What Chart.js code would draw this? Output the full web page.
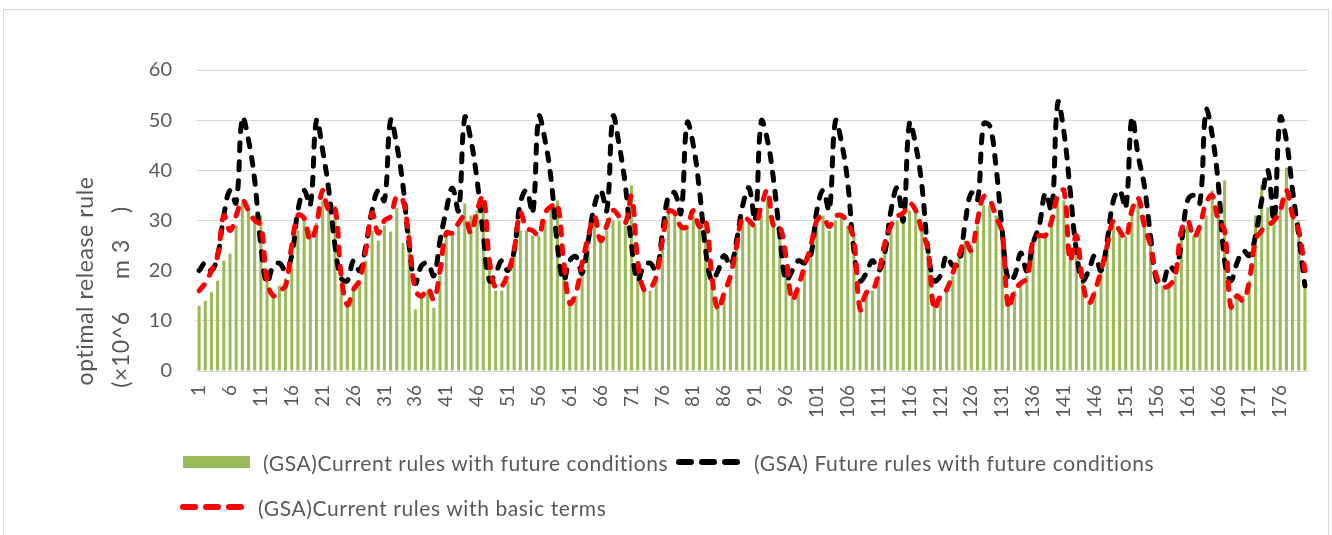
<!DOCTYPE html>
<html>
<head>
<meta charset="UTF-8"/>
<title>optimal release rule</title>
<script src="https://cdn.jsdelivr.net/npm/chart.js@4.4.0/dist/chart.umd.min.js"></script>
<style>
 body { margin: 0; background: #fff; font-family: Lato, sans-serif; color: #595959; }
 #wrap { position: relative; width: 1332px; height: 535px; overflow: hidden; background: #fff; }
 #frame { position: absolute; left: 3px; top: 9px; width: 1324px; height: 540px; border: 1px solid #d9d9d9; }
 canvas { position: absolute; left: 0; top: 0; }
 .ytitle { position: absolute; white-space: pre; font-size: 23px; letter-spacing: 0.6px; line-height: 1; transform: translate(-50%, -50%) rotate(-90deg); }
 .leg { position: absolute; font-size: 21px; letter-spacing: 0.6px; white-space: pre; line-height: 1; transform: translateY(-50%); }
 .swatch { position: absolute; }
</style>
</head>
<body>
<div id="wrap">
  <div id="frame"></div>
  <canvas id="chart" width="1332" height="535"></canvas>

  <div class="ytitle" style="left:84px; top:281px;">optimal release rule</div>
  <div class="ytitle" style="left:120px; top:297px;">(×10^6     m 3    )</div>

  <div class="swatch" style="left:183px; top:456px; width:67px; height:12px; background:#9bbb59;"></div>
  <div class="leg" style="left:263px; top:462px;">(GSA)Current rules with future conditions</div>
  <svg class="swatch" style="left:674px; top:455px;" width="70" height="14">
    <line x1="5" y1="7" x2="65" y2="7" stroke="#000" stroke-width="6" stroke-linecap="round" stroke-dasharray="12 11"/>
  </svg>
  <div class="leg" style="left:754px; top:462px;">(GSA) Future rules with future conditions</div>

  <svg class="swatch" style="left:178px; top:500px;" width="70" height="14">
    <line x1="5" y1="7" x2="65" y2="7" stroke="#ff0000" stroke-width="6" stroke-linecap="round" stroke-dasharray="12 11"/>
  </svg>
  <div class="leg" style="left:258px; top:507px;">(GSA)Current rules with basic terms</div>
</div>

<script>
 // months 1..180 (15 years, monthly)
 var months = [];
 for (var i = 1; i <= 180; i++) months.push(String(i));

 // (GSA)Current rules with future conditions - bars
 var currentFuture = [
   13, 14, 15.7, 18, 22, 23.4, 29, 33.5, 32, 31, 31, 20,
   15.5, 17, 18.5, 21, 28, 30.5, 28, 29.5, 34, 33, 33, 17,
   14, 16.9, 18, 22, 28, 26, 29, 27.8, 32.5, 25.5, 28, 12.3,
   15, 16, 12.6, 19, 27, 27, 30, 33.4, 31, 32, 33, 21,
   16, 16, 18, 23, 28, 28, 27, 27, 30, 32, 34, 19,
   14, 15, 20, 25, 30, 27, 28, 30, 30, 29, 37, 21,
   16, 16, 18, 25, 34, 31, 29, 29, 31, 29, 30, 18,
   13, 15, 18, 24, 30, 30, 29, 31, 34, 30, 29, 21,
   15, 16, 20, 24, 29, 31, 28, 30, 31, 29, 27, 14,
   16, 16, 19, 25, 28, 30, 30, 32, 32, 29, 25, 13,
   15, 16, 19, 23, 26, 25, 29, 33, 33, 31, 27, 14,
   16, 17, 19, 25, 27, 27, 29, 34.6, 34, 25, 26, 18,
   14, 16, 20, 25, 29, 28, 27, 31, 33.6, 30, 26, 19,
   17, 17, 19, 27, 29, 27, 29, 31, 36, 31, 38, 13,
   15, 15, 18, 31, 37, 32.6, 32, 32, 40.5, 31, 30, 18
 ];

 // (GSA) Future rules with future conditions - black dashed
 var futureFuture = [
   20, 21.5, 20, 23, 31, 36, 33.5, 50.5, 46, 38, 25, 17.5,
   21, 21.5, 20, 23, 32, 36, 33, 50, 44, 36, 25, 18.5,
   18, 22, 20, 25, 32, 36, 34, 50, 45, 37, 25, 17.5,
   21, 21.5, 19, 26, 32, 36.5, 32, 50.5, 46, 38, 27, 18,
   19.5, 22, 20, 24, 33.5, 36, 31.5, 50.7, 46, 38, 25, 18,
   22, 22.8, 19.5, 26, 33, 36, 32, 50.7, 45, 37, 25, 18,
   21, 21.5, 20, 27.5, 35, 35.5, 31.5, 49.5, 45, 36, 24, 18,
   20, 23, 21, 26, 33, 36.5, 30, 49.8, 46, 38, 27, 18,
   20, 22, 21.5, 23, 32, 36, 32, 49.8, 45.5, 37.5, 24, 18,
   19.5, 22, 20, 23.5, 32, 36.5, 30, 49.5, 45, 37, 24, 18,
   19, 23, 21, 21.5, 29.5, 35.5, 34, 49.3, 48.8, 40.7, 28, 18,
   19, 23.5, 20, 25.5, 29, 35.5, 32, 53.5, 47.5, 36, 24, 18,
   20, 23, 20, 26, 34, 36, 32.5, 50.5, 43, 37, 27, 18,
   17.5, 21, 20, 25.5, 34, 35, 33.5, 52, 47, 37, 22, 18,
   21.5, 24, 23, 27, 34, 40, 30, 50.5, 46, 36, 27, 17
 ];

 // (GSA)Current rules with basic terms - red dashed
 var currentBasic = [
   16, 17.5, 20, 23, 31, 28, 31, 34, 32, 30, 29, 18,
   15, 16, 17, 25, 31, 30.5, 26, 29, 36, 32, 32.5, 19,
   13.2, 16.2, 18.2, 24.2, 31.5, 27.5, 30, 30.8, 34.8, 34, 26, 16.2,
   14.9, 16.5, 14.2, 20, 27.5, 27.5, 29.5, 30.8, 27.5, 32, 34.8, 22,
   16.5, 16.9, 19.5, 24.2, 31.5, 28.5, 28, 27, 31.5, 32.8, 33.4, 22,
   13.5, 15.6, 21.5, 26.8, 30.8, 26, 29, 32, 30.8, 29.5, 34.8, 22,
   16.2, 16.5, 18.9, 26, 31.8, 31.5, 28.8, 28.8, 32, 28.8, 30, 19,
   12.3, 15.6, 18.9, 24.8, 30.8, 30, 29, 32.8, 36, 28.8, 28.8, 22.8,
   14.2, 16.9, 20.9, 24.8, 30, 30.8, 28.8, 30.8, 31, 29.5, 26, 12.3,
   15.6, 16, 19.5, 25.5, 29, 30.8, 31.5, 33.4, 32, 28, 24, 12.3,
   15, 16.2, 19.5, 23, 26, 24, 30, 34.8, 34, 30.8, 27.5, 12.6,
   16, 17.5, 18.5, 26, 27, 27, 30, 35, 36, 22, 27, 18,
   13.5, 16, 20, 25, 30, 28, 26.5, 32, 34.5, 29, 25, 18.8,
   16.8, 17, 19, 28, 30, 26.7, 29, 33.5, 35, 30, 28, 12.8,
   15, 14, 18, 26, 28, 29, 30, 32, 36, 31, 28, 20
 ];

 var yTicks = [0, 10, 20, 30, 40, 50, 60];

 var chart = new Chart(document.getElementById('chart'), {
     type: 'bar',
     data: {
         labels: months,
         datasets: [{
             type: 'line',
             label: '(GSA)Current rules with basic terms',
             data: currentBasic,
             borderColor: '#ff0000',
             borderWidth: 5,
             borderDash: [8, 11],
             borderCapStyle: 'round',
             pointRadius: 0,
             tension: 0.4,
             fill: false,
             order: 1
         }, {
             type: 'line',
             label: '(GSA) Future rules with future conditions',
             data: futureFuture,
             borderColor: '#000000',
             borderWidth: 5,
             borderDash: [8, 11],
             borderCapStyle: 'round',
             pointRadius: 0,
             tension: 0.4,
             fill: false,
             order: 2
         }, {
             type: 'bar',
             label: '(GSA)Current rules with future conditions',
             data: currentFuture,
             backgroundColor: '#9bbb59',
             barPercentage: 0.5,
             categoryPercentage: 1,
             order: 3
         }]
     },
     options: {
         responsive: false,
         animation: false,
         devicePixelRatio: 1,
         layout: { padding: { left: 0, top: 70, right: 24, bottom: 0 } },
         plugins: { legend: { display: false }, tooltip: { enabled: false } },
         scales: {
             x: {
                 grid: { display: false, drawTicks: false },
                 border: { color: '#d9d9d9' },
                 ticks: {
                     autoSkip: false, minRotation: 90, maxRotation: 90, padding: 14,
                     color: '#595959', font: { family: 'Lato', size: 19 },
                     callback: function(v, i) { return i % 5 === 0 ? months[i] : ''; }
                 },
                 afterFit: function(s) { s.height = 164; s.paddingLeft = 0; s.paddingRight = 0; }
             },
             y: {
                 min: 0, max: 60,
                 afterBuildTicks: function(s) { s.ticks = yTicks.map(function(v) { return { value: v }; }); },
                 ticks: { padding: 24, color: '#595959', font: { family: 'Lato', size: 20 } },
                 grid: { color: '#d9d9d9', drawTicks: false },
                 border: { display: false },
                 afterFit: function(s) { s.width = 196; }
             }
         }
     }
 });
</script>
</body>
</html>
